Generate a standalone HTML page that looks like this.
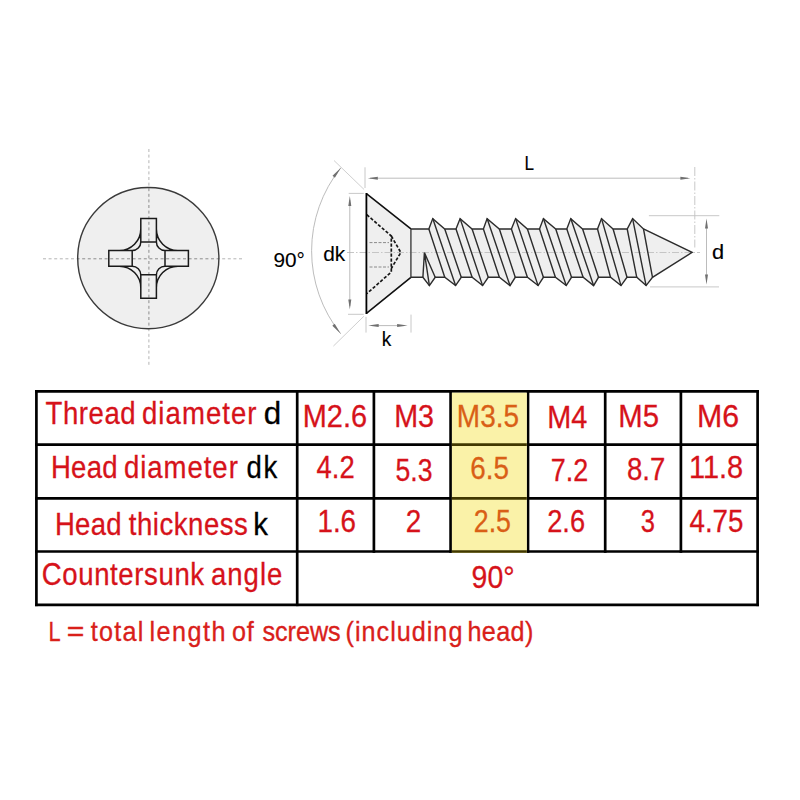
<!DOCTYPE html>
<html><head><meta charset="utf-8"><style>
html,body{margin:0;padding:0;background:#fff;width:800px;height:800px;overflow:hidden}
svg{display:block;font-family:"Liberation Sans",sans-serif}
</style></head><body>
<svg width="800" height="800" viewBox="0 0 800 800">
<line x1="43" y1="258.8" x2="244" y2="258.8" stroke="#b4b4b4" stroke-width="1" stroke-dasharray="3 2.6"/>
<line x1="148.9" y1="149" x2="148.9" y2="367" stroke="#b4b4b4" stroke-width="1" stroke-dasharray="3 2.6"/>
<circle cx="148.3" cy="258.1" r="70.6" fill="#efefef" stroke="none"/>
<clipPath id="cc"><circle cx="148.3" cy="258.1" r="70.6"/></clipPath>
<g clip-path="url(#cc)"><line x1="43" y1="258.8" x2="244" y2="258.8" stroke="#8c8c8c" stroke-width="1" stroke-dasharray="3 2.6"/><line x1="148.9" y1="149" x2="148.9" y2="367" stroke="#8c8c8c" stroke-width="1" stroke-dasharray="3 2.6"/></g>
<circle cx="148.3" cy="258.1" r="70.6" fill="none" stroke="#3a3a3a" stroke-width="1.4"/>
<path d="M140.8,218.6 H156.4 V242 H140.8 Z M140.8,274.8 H156.4 V298.2 H140.8 Z M108.8,250.6 H132.2 V266.2 H108.8 Z M165,250.6 H188.4 V266.2 H165 Z M140.8,229.1 A21.5,21.5 0 0 1 119.3,250.6 M140.8,242 A8.6,8.6 0 0 1 132.2,250.6 M140.8,287.7 A21.5,21.5 0 0 0 119.3,266.2 M140.8,274.8 A8.6,8.6 0 0 0 132.2,266.2 M156.4,229.1 A21.5,21.5 0 0 0 177.9,250.6 M156.4,242 A8.6,8.6 0 0 0 165,250.6 M156.4,287.7 A21.5,21.5 0 0 1 177.9,266.2 M156.4,274.8 A8.6,8.6 0 0 1 165,266.2" fill="none" stroke="#1a1a1a" stroke-width="1.5"/>
<path d="M366.4,193.7 L410.9,228.9 L410.9,277.3 L366.4,313.3 Z" fill="#efefef" stroke="none"/>
<path d="M410.9,229.0 L428.85,229.0 L432.75,218.6 L444.75,229.0 L456,229.0 L460.1,218.6 L472.1,229.0 L483.4,229.0 L487.1,218.6 L499.35,229.0 L511.4,229.0 L515.6,218.6 L527.4,229.0 L539.5,229.0 L543.4,218.6 L555.75,229.0 L566.8,229.0 L570.75,218.6 L582.6,229.0 L597.5,229.0 L601.5,218.6 L613.1,229.0 L627.2,229.0 L632.6,218.6 L643.5,229.0 L692.1,252.4 L652.5,277.3 L646.1,285.6 L636.75,277.3 L627,277.3 L621,285.6 L610.5,277.3 L598.5,277.3 L593.6,285.6 L583.1,277.3 L571.5,277.3 L566.25,285.6 L555.4,277.3 L543.4,277.3 L538.1,285.6 L527.4,277.3 L515.25,277.3 L510,285.6 L499.35,277.3 L488.25,277.3 L482.6,285.6 L472.1,277.3 L461.25,277.3 L455.6,285.6 L444.75,277.3 L435.2,277.3 L429.4,285.6 L422.9,277.3 L410.9,277.3 Z" fill="#efefef" stroke="none"/>
<line x1="347" y1="252.5" x2="700" y2="252.5" stroke="#c0c0c0" stroke-width="0.9" stroke-dasharray="7 2 1.5 2"/>
<path d="M369.5,242.6 H389 M369.5,267 H389" fill="none" stroke="#8a8a8a" stroke-width="1" stroke-dasharray="3 1.5"/>
<path d="M366.8,214.7 L391.3,236 L391.3,272 L367,293.5 M391.3,236 L400.8,252.5 L391.3,268.5" fill="none" stroke="#161616" stroke-width="1.7" stroke-dasharray="3.2 1.8"/>
<path d="M366.4,193.7 L410.9,228.9 M410.9,277.3 L366.4,313.3" fill="none" stroke="#111" stroke-width="1.6"/>
<line x1="366.4" y1="193" x2="366.4" y2="314" stroke="#000" stroke-width="1.8"/>
<line x1="410.9" y1="228.9" x2="410.9" y2="277.3" stroke="#555" stroke-width="1.6"/>
<path d="M410.9,229.0 L428.85,229.0 L432.75,218.6 L444.75,229.0 L456,229.0 L460.1,218.6 L472.1,229.0 L483.4,229.0 L487.1,218.6 L499.35,229.0 L511.4,229.0 L515.6,218.6 L527.4,229.0 L539.5,229.0 L543.4,218.6 L555.75,229.0 L566.8,229.0 L570.75,218.6 L582.6,229.0 L597.5,229.0 L601.5,218.6 L613.1,229.0 L627.2,229.0 L632.6,218.6 L643.5,229.0 L692.1,252.4 L652.5,277.3 L646.1,285.6 L636.75,277.3 L627,277.3 L621,285.6 L610.5,277.3 L598.5,277.3 L593.6,285.6 L583.1,277.3 L571.5,277.3 L566.25,285.6 L555.4,277.3 L543.4,277.3 L538.1,285.6 L527.4,277.3 L515.25,277.3 L510,285.6 L499.35,277.3 L488.25,277.3 L482.6,285.6 L472.1,277.3 L461.25,277.3 L455.6,285.6 L444.75,277.3 L435.2,277.3 L429.4,285.6 L422.9,277.3 L410.9,277.3" fill="none" stroke="#2c2c2c" stroke-width="1.4" stroke-linejoin="miter"/>
<path d="M424.4,252.6 L422.9,277.3 M424.4,252.6 L429.4,285.6 M424.4,252.6 L435.2,277.3 M428.85,229.0 L444.75,277.3 M432.75,218.6 L455.6,285.6 M444.75,229.0 L461.25,277.3 M456,229.0 L472.1,277.3 M460.1,218.6 L482.6,285.6 M472.1,229.0 L488.25,277.3 M483.4,229.0 L499.35,277.3 M487.1,218.6 L510,285.6 M499.35,229.0 L515.25,277.3 M511.4,229.0 L527.4,277.3 M515.6,218.6 L538.1,285.6 M527.4,229.0 L543.4,277.3 M539.5,229.0 L555.4,277.3 M543.4,218.6 L566.25,285.6 M555.75,229.0 L571.5,277.3 M566.8,229.0 L583.1,277.3 M570.75,218.6 L593.6,285.6 M582.6,229.0 L598.5,277.3 M597.5,229.0 L610.5,277.3 M601.5,218.6 L621,285.6 M613.1,229.0 L627,277.3 M627.2,229.0 L636.75,277.3 M632.6,218.6 L646.1,285.6 M643.5,229.0 L652.5,277.3" fill="none" stroke="#2c2c2c" stroke-width="1.4"/>
<line x1="365" y1="167.3" x2="365" y2="188" stroke="#c2c2c2" stroke-width="0.9"/>
<line x1="694.8" y1="167" x2="694.8" y2="247.5" stroke="#c2c2c2" stroke-width="0.9" stroke-dasharray="9 2 1.5 2"/>
<line x1="370" y1="178.2" x2="688" y2="178.2" stroke="#b4b4b4" stroke-width="0.9"/>
<path d="M367.8,178.2 L377.8,176.7 L377.8,179.7 Z" fill="#707070"/>
<path d="M690.4,178.2 L680.4,179.7 L680.4,176.7 Z" fill="#707070"/>
<line x1="348.7" y1="193.4" x2="363.8" y2="193.4" stroke="#c2c2c2" stroke-width="0.9"/>
<line x1="348" y1="314.3" x2="363.7" y2="314.3" stroke="#c2c2c2" stroke-width="0.9"/>
<line x1="349.8" y1="200" x2="349.8" y2="306" stroke="#b4b4b4" stroke-width="0.9"/>
<path d="M349.8,195.9 L351.3,205.9 L348.3,205.9 Z" fill="#707070"/>
<path d="M349.8,309.6 L348.3,299.6 L351.3,299.6 Z" fill="#707070"/>
<line x1="366" y1="316.9" x2="366" y2="332.6" stroke="#c2c2c2" stroke-width="0.9"/>
<line x1="411" y1="314.6" x2="411" y2="332.6" stroke="#c2c2c2" stroke-width="0.9"/>
<line x1="372" y1="325.6" x2="404" y2="325.6" stroke="#b4b4b4" stroke-width="0.9"/>
<path d="M368.2,325.6 L378.7,324.1 L378.7,327.1 Z" fill="#707070"/>
<path d="M407.6,325.6 L397.1,327.1 L397.1,324.1 Z" fill="#707070"/>
<line x1="648.9" y1="215.7" x2="719.3" y2="215.7" stroke="#c2c2c2" stroke-width="0.9"/>
<line x1="650" y1="286.9" x2="719" y2="286.9" stroke="#c2c2c2" stroke-width="0.9"/>
<line x1="706.5" y1="221" x2="706.5" y2="282" stroke="#b4b4b4" stroke-width="0.9"/>
<path d="M706.5,218.5 L708,228.5 L705,228.5 Z" fill="#707070"/>
<path d="M706.5,284.5 L705,274.5 L708,274.5 Z" fill="#707070"/>
<path d="M340.9,167.75 A132.55,132.55 0 0 0 340.7,333.75" fill="none" stroke="#b4b4b4" stroke-width="0.9"/>
<path d="M340.9,167.75 L334.86,177.65 L332.52,175.77 Z" fill="#707070"/>
<path d="M340.7,333.75 L332.34,325.71 L334.68,323.84 Z" fill="#707070"/>
<line x1="364.1" y1="189.5" x2="334" y2="160.5" stroke="#cacaca" stroke-width="0.9"/>
<line x1="363.8" y1="316.3" x2="333.4" y2="346.1" stroke="#cacaca" stroke-width="0.9"/>
<text x="524.47" y="170" font-size="20.2" fill="#000" textLength="9.5" lengthAdjust="spacingAndGlyphs" stroke="#000" stroke-width="0.15">L</text>
<text x="323.17" y="261" font-size="19.8" fill="#000" textLength="22.08" lengthAdjust="spacingAndGlyphs" stroke="#000" stroke-width="0.1">dk</text>
<text x="273.49" y="266.9" font-size="20.4" fill="#000" textLength="31.46" lengthAdjust="spacingAndGlyphs" stroke="#000" stroke-width="0.1">90°</text>
<text x="381.68" y="345.5" font-size="19.4" fill="#000" textLength="9.55" lengthAdjust="spacingAndGlyphs" stroke="#000" stroke-width="0.15">k</text>
<text x="711.96" y="258.9" font-size="19.4" fill="#000" textLength="12.11" lengthAdjust="spacingAndGlyphs" stroke="#000" stroke-width="0.15">d</text>
<line x1="35.05" y1="391.4" x2="758.95" y2="391.4" stroke="#000" stroke-width="2.7"/>
<line x1="35.05" y1="444.7" x2="758.95" y2="444.7" stroke="#000" stroke-width="2.7"/>
<line x1="35.05" y1="498.4" x2="758.95" y2="498.4" stroke="#000" stroke-width="2.7"/>
<line x1="35.05" y1="551.5" x2="758.95" y2="551.5" stroke="#000" stroke-width="2.7"/>
<line x1="35.05" y1="604.8" x2="758.95" y2="604.8" stroke="#000" stroke-width="2.7"/>
<line x1="36.4" y1="390.05" x2="36.4" y2="606.15" stroke="#000" stroke-width="2.7"/>
<line x1="297.2" y1="390.05" x2="297.2" y2="606.15" stroke="#000" stroke-width="2.7"/>
<line x1="373.9" y1="390.05" x2="373.9" y2="552.85" stroke="#000" stroke-width="2.7"/>
<line x1="450.6" y1="390.05" x2="450.6" y2="552.85" stroke="#000" stroke-width="2.7"/>
<line x1="528.0" y1="390.05" x2="528.0" y2="552.85" stroke="#000" stroke-width="2.7"/>
<line x1="605.2" y1="390.05" x2="605.2" y2="552.85" stroke="#000" stroke-width="2.7"/>
<line x1="680.9" y1="390.05" x2="680.9" y2="552.85" stroke="#000" stroke-width="2.7"/>
<line x1="757.6" y1="390.05" x2="757.6" y2="606.15" stroke="#000" stroke-width="2.7"/>
<rect x="451.9" y="392.7" width="74.9" height="160.2" fill="#faf2a8"/>
<line x1="451.9" y1="444.7" x2="526.8" y2="444.7" stroke="#413800" stroke-width="2.7"/>
<line x1="451.9" y1="498.4" x2="526.8" y2="498.4" stroke="#413800" stroke-width="2.7"/>
<line x1="451.9" y1="551.5" x2="526.8" y2="551.5" stroke="#413800" stroke-width="2.7"/>
<text transform="scale(0.9,1)" x="50.6" y="424.4" font-size="30.6" fill="#d6121a" letter-spacing="0.627" stroke="#d6121a" stroke-width="0.3">Thread</text>
<text transform="scale(0.9,1)" x="157.77" y="424.4" font-size="30.6" fill="#d6121a" letter-spacing="1.177" stroke="#d6121a" stroke-width="0.3">diameter</text>
<text x="263.83" y="424.4" font-size="30.6" fill="#000" textLength="17.43" lengthAdjust="spacingAndGlyphs" stroke="#000" stroke-width="0.3">d</text>
<text transform="scale(0.9,1)" x="56.55" y="478.4" font-size="30.6" fill="#d6121a" letter-spacing="0.333" stroke="#d6121a" stroke-width="0.3">Head</text>
<text transform="scale(0.9,1)" x="137.77" y="478.4" font-size="30.6" fill="#d6121a" letter-spacing="1.058" stroke="#d6121a" stroke-width="0.3">diameter</text>
<text transform="scale(0.9,1)" x="273.88" y="478.2" font-size="30.6" fill="#000" letter-spacing="1.972" stroke="#000" stroke-width="0.3">dk</text>
<text transform="scale(0.9,1)" x="60.99" y="535.1" font-size="30.6" fill="#d6121a" letter-spacing="0.333" stroke="#d6121a" stroke-width="0.3">Head</text>
<text transform="scale(0.9,1)" x="143.07" y="535.1" font-size="30.6" fill="#d6121a" letter-spacing="0.596" stroke="#d6121a" stroke-width="0.3">thickness</text>
<text x="253.15" y="535.2" font-size="30.6" fill="#000" textLength="14.7" lengthAdjust="spacingAndGlyphs" stroke="#000" stroke-width="0.3">k</text>
<text transform="scale(0.9,1)" x="46.41" y="585" font-size="30.6" fill="#d6121a" letter-spacing="0.686" stroke="#d6121a" stroke-width="0.3">Countersunk</text>
<text transform="scale(0.9,1)" x="234.44" y="585" font-size="30.6" fill="#d6121a" letter-spacing="1.099" stroke="#d6121a" stroke-width="0.3">angle</text>
<text x="302.78" y="427" font-size="30.6" fill="#d6121a" textLength="64.32" lengthAdjust="spacingAndGlyphs" stroke="#d6121a" stroke-width="0.3">M2.6</text>
<text x="394.2" y="427" font-size="30.6" fill="#d6121a" textLength="39.89" lengthAdjust="spacingAndGlyphs" stroke="#d6121a" stroke-width="0.3">M3</text>
<text x="456.86" y="427" font-size="30.6" fill="#d95f16" textLength="62.14" lengthAdjust="spacingAndGlyphs" stroke="#d95f16" stroke-width="0.3">M3.5</text>
<text x="547.19" y="428" font-size="30.6" fill="#d6121a" textLength="40.05" lengthAdjust="spacingAndGlyphs" stroke="#d6121a" stroke-width="0.3">M4</text>
<text x="618.35" y="427" font-size="30.6" fill="#d6121a" textLength="40.71" lengthAdjust="spacingAndGlyphs" stroke="#d6121a" stroke-width="0.3">M5</text>
<text x="697.07" y="427" font-size="30.6" fill="#d6121a" textLength="42.09" lengthAdjust="spacingAndGlyphs" stroke="#d6121a" stroke-width="0.3">M6</text>
<text x="316.55" y="478" font-size="30.6" fill="#d6121a" textLength="38.08" lengthAdjust="spacingAndGlyphs" stroke="#d6121a" stroke-width="0.3">4.2</text>
<text x="395.49" y="481" font-size="30.6" fill="#d6121a" textLength="36.94" lengthAdjust="spacingAndGlyphs" stroke="#d6121a" stroke-width="0.3">5.3</text>
<text x="470.36" y="479" font-size="30.6" fill="#d95f16" textLength="38.66" lengthAdjust="spacingAndGlyphs" stroke="#d95f16" stroke-width="0.3">6.5</text>
<text x="550.75" y="481" font-size="30.6" fill="#d6121a" textLength="37.45" lengthAdjust="spacingAndGlyphs" stroke="#d6121a" stroke-width="0.3">7.2</text>
<text x="626.94" y="480" font-size="30.6" fill="#d6121a" textLength="38.29" lengthAdjust="spacingAndGlyphs" stroke="#d6121a" stroke-width="0.3">8.7</text>
<text x="688.95" y="478" font-size="30.6" fill="#d6121a" textLength="54.18" lengthAdjust="spacingAndGlyphs" stroke="#d6121a" stroke-width="0.3">11.8</text>
<text x="317.44" y="532" font-size="30.6" fill="#d6121a" textLength="38.64" lengthAdjust="spacingAndGlyphs" stroke="#d6121a" stroke-width="0.3">1.6</text>
<text x="405.76" y="532" font-size="30.6" fill="#d6121a" textLength="15.49" lengthAdjust="spacingAndGlyphs" stroke="#d6121a" stroke-width="0.3">2</text>
<text x="473.81" y="532" font-size="30.6" fill="#d95f16" textLength="37.16" lengthAdjust="spacingAndGlyphs" stroke="#d95f16" stroke-width="0.3">2.5</text>
<text x="547.19" y="532" font-size="30.6" fill="#d6121a" textLength="37.86" lengthAdjust="spacingAndGlyphs" stroke="#d6121a" stroke-width="0.3">2.6</text>
<text x="640.78" y="532" font-size="30.6" fill="#d6121a" textLength="14.2" lengthAdjust="spacingAndGlyphs" stroke="#d6121a" stroke-width="0.3">3</text>
<text x="689.54" y="532" font-size="30.6" fill="#d6121a" textLength="53.88" lengthAdjust="spacingAndGlyphs" stroke="#d6121a" stroke-width="0.3">4.75</text>
<text x="471.59" y="587.5" font-size="30.6" fill="#d6121a" textLength="42.97" lengthAdjust="spacingAndGlyphs" stroke="#d6121a" stroke-width="0.3">90°</text>
<text x="48.38" y="640.6" font-size="28" fill="#d9201a" textLength="12.14" lengthAdjust="spacingAndGlyphs" stroke="#d9201a" stroke-width="0.35">L</text>
<text x="66.73" y="640.6" font-size="28" fill="#d9201a" textLength="17.6" lengthAdjust="spacingAndGlyphs" stroke="#d9201a" stroke-width="0.35">=</text>
<text transform="scale(0.9,1)" x="100.91" y="640.6" font-size="28" fill="#d9201a" letter-spacing="1.399" stroke="#d9201a" stroke-width="0.35">total</text>
<text transform="scale(0.9,1)" x="166.07" y="640.6" font-size="28" fill="#d9201a" letter-spacing="1.629" stroke="#d9201a" stroke-width="0.35">length</text>
<text transform="scale(0.9,1)" x="257.91" y="640.6" font-size="28" fill="#d9201a" letter-spacing="0.712" stroke="#d9201a" stroke-width="0.35">of</text>
<text transform="scale(0.9,1)" x="291.63" y="640.6" font-size="28" fill="#d9201a" letter-spacing="-0.035" stroke="#d9201a" stroke-width="0.35">screws</text>
<text transform="scale(0.9,1)" x="384.01" y="640.6" font-size="28" fill="#d9201a" letter-spacing="1.107" stroke="#d9201a" stroke-width="0.35">(including</text>
<text transform="scale(0.9,1)" x="519.35" y="640.6" font-size="28" fill="#d9201a" letter-spacing="0.421" stroke="#d9201a" stroke-width="0.35">head)</text>
</svg>
</body></html>
